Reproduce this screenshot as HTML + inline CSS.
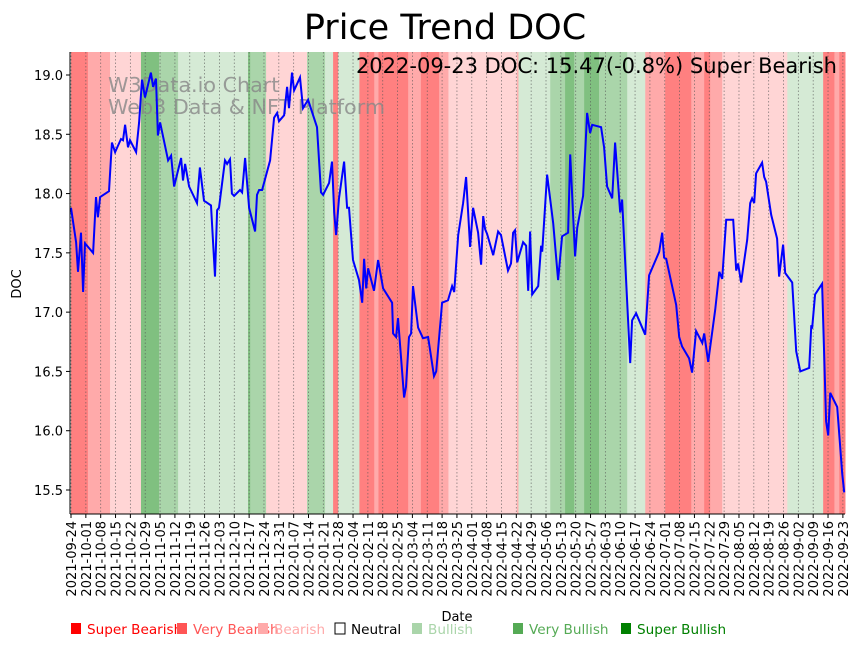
<!DOCTYPE html>
<html><head><meta charset="utf-8"><style>
body{margin:0;background:#fff;font-family:"DejaVu Sans","Liberation Sans",sans-serif}
svg text{font-family:"DejaVu Sans","Liberation Sans",sans-serif}
</style></head><body>
<svg id="chart" width="862" height="646" xmlns="http://www.w3.org/2000/svg">
<text x="445" y="39" font-size="35" text-anchor="middle">Price Trend DOC</text>
<g id="bands"></g>
<g id="grid"></g>
<text x="108" y="92" font-size="20.7" fill="#888" opacity="0.8">W3Data.io Chart</text>
<text x="108" y="114" font-size="20.7" fill="#888" opacity="0.8">Web3 Data &amp; NFT Platform</text>
<path id="line" fill="none" stroke="#0000ff" stroke-width="2"/>
<text x="837" y="73" font-size="21" text-anchor="end">2022-09-23 DOC: 15.47(-0.8%) Super Bearish</text>
<g id="axes"></g>
<text transform="translate(21,284) rotate(-90)" font-size="13" text-anchor="middle">DOC</text>
<text x="457" y="621" font-size="13" text-anchor="middle">Date</text>
<g id="legend"></g>
</svg>
<script>
const days=[0,2.4,3.3,4.7,5.7,6.6,10.4,11.8,12.7,13.7,17.9,19.3,20.8,23.6,24.5,25.5,26.9,27.8,30.7,32.1,33.5,34.9,37.7,38.7,40.1,41.0,42.0,45.8,47.2,48.6,51.9,52.8,53.8,55.7,59.4,60.8,62.7,66.0,67.9,68.9,69.8,72.6,73.6,75.0,75.9,76.9,79.7,80.7,82.1,84.0,86.8,87.7,88.7,90.1,93.9,95.8,97.2,98.1,100.5,101.9,102.8,104.2,105.2,108.0,109.4,111.8,116.0,117.9,118.9,121.7,123.1,124.1,125.0,126.4,128.8,130.2,131.1,133.0,135.8,137.3,138.2,139.2,140.1,142.9,144.8,147.2,151.4,151.9,153.3,154.2,157.1,158.0,159.4,160.4,161.3,163.7,166.0,168.4,171.2,172.2,175.0,177.8,179.7,180.7,182.6,184.9,186.3,188.2,189.6,192.0,193.4,194.4,195.3,196.2,199.1,201.4,202.8,206.1,207.5,208.5,209.4,210.4,213.2,214.6,215.6,216.5,217.5,220.3,221.7,222.2,224.5,227.4,229.7,231.6,234.4,235.4,237.7,238.7,241.5,243.4,244.8,245.8,250.0,251.4,252.8,255.2,256.6,259.0,259.9,263.7,264.6,266.5,270.8,272.6,277.4,278.8,279.7,280.7,285.4,286.8,288.2,291.5,292.9,294.8,297.7,298.6,300.5,303.8,305.7,307.1,308.0,309.0,312.3,313.7,314.6,316.0,318.9,320.3,321.2,322.2,323.1,325.9,326.9,327.8,330.2,333.0,333.9,335.8,336.8,340.1,342.0,343.9,348.1,349.1,349.5,350.9,354.2,356.1,357.1,358.0,361.3,363.7,364.6];
const prices=[17.88,17.59,17.34,17.67,17.17,17.58,17.50,17.97,17.80,17.97,18.02,18.43,18.35,18.46,18.45,18.58,18.39,18.45,18.35,18.60,18.96,18.81,19.02,18.90,18.97,18.49,18.60,18.28,18.32,18.06,18.30,18.11,18.25,18.06,17.92,18.22,17.94,17.90,17.30,17.86,17.88,18.28,18.25,18.29,18.00,17.98,18.03,18.01,18.30,17.88,17.68,17.99,18.03,18.03,18.28,18.64,18.68,18.61,18.66,18.90,18.72,19.02,18.87,18.98,18.72,18.79,18.56,18.01,17.99,18.09,18.27,17.84,17.65,17.96,18.27,17.88,17.88,17.44,17.27,17.08,17.45,17.20,17.37,17.18,17.44,17.20,17.08,16.82,16.79,16.95,16.28,16.37,16.79,16.82,17.22,16.87,16.78,16.79,16.46,16.50,17.08,17.10,17.22,17.17,17.65,17.92,18.14,17.55,17.88,17.67,17.40,17.81,17.70,17.66,17.48,17.68,17.65,17.35,17.41,17.67,17.69,17.42,17.59,17.56,17.18,17.68,17.15,17.22,17.56,17.51,18.16,17.75,17.27,17.64,17.67,18.33,17.47,17.71,17.98,18.68,18.51,18.58,18.56,18.39,18.06,17.96,18.43,17.84,17.95,16.57,16.93,16.99,16.81,17.31,17.51,17.67,17.46,17.45,17.06,16.79,16.71,16.61,16.49,16.84,16.74,16.82,16.58,17.02,17.34,17.28,17.52,17.78,17.78,17.35,17.41,17.25,17.61,17.92,17.96,17.92,18.17,18.26,18.14,18.10,17.82,17.62,17.30,17.57,17.33,17.25,16.67,16.50,16.53,16.89,16.86,17.15,17.24,16.08,15.96,16.32,16.20,15.64,15.48];
const bandStart=[0,8,18.4,33,41.5,50.5,83.5,84.5,92,111.3,119.8,123.6,126,136,143,145,159,165,173.6,178,210.4,211,226,233,237.3,242,249,262.3,270.8,280.2,292.5,298.6,301.4,307.1,337.8,354.7,360,362.3];
const bandEnd=[8,18.4,33,41.5,50.5,83.5,84.5,92,111.3,119.8,123.6,126,136,143,145,159,165,173.6,178,210.4,211,226,233,237.3,242,249,262.3,270.8,280.2,292.5,298.6,301.4,307.1,337.8,354.7,360,362.3,365];
const bandLevel=[-3,-2,-1,3,2,1,3,2,-1,2,1,-3,1,-3,-2,-3,-2,-3,-2,-1,-2,1,2,3,2,3,2,1,-2,-3,-2,-3,-2,-1,1,-3,-2,-3];
const yTicks=[15.5,16.0,16.5,17.0,17.5,18.0,18.5,19.0];
const xTickLabels=["2021-09-24","2021-10-01","2021-10-08","2021-10-15","2021-10-22","2021-10-29","2021-11-05","2021-11-12","2021-11-19","2021-11-26","2021-12-03","2021-12-10","2021-12-17","2021-12-24","2021-12-31","2022-01-07","2022-01-14","2022-01-21","2022-01-28","2022-02-04","2022-02-11","2022-02-18","2022-02-25","2022-03-04","2022-03-11","2022-03-18","2022-03-25","2022-04-01","2022-04-08","2022-04-15","2022-04-22","2022-04-29","2022-05-06","2022-05-13","2022-05-20","2022-05-27","2022-06-03","2022-06-10","2022-06-17","2022-06-24","2022-07-01","2022-07-08","2022-07-15","2022-07-22","2022-07-29","2022-08-05","2022-08-12","2022-08-19","2022-08-26","2022-09-02","2022-09-09","2022-09-16","2022-09-23"];
const legendLabels=["Super Bearish","Very Bearish","Bearish","Neutral","Bullish","Very Bullish","Super Bullish"];
const legendColors=["#ff0000","#ff5555","#ffaaaa","#ffffff","#aad5aa","#55aa55","#008000"];
const legendX=[70,176,257,334,411,512,620];

const NS="http://www.w3.org/2000/svg";
const L=70,R=845,T=52,B=514;
const xS=d=>71+d*(845-71)/365;
const yS=v=>75+(19.0-v)*(490-75)/3.5;
const bandColor={"-3":"#ff8080","-2":"#ffaaaa","-1":"#ffd5d5","1":"#d5ead5","2":"#aad5aa","3":"#80c080"};
function mk(tag,attrs,parent){const e=document.createElementNS(NS,tag);for(const k in attrs)e.setAttribute(k,attrs[k]);parent.appendChild(e);return e;}

const gB=document.getElementById('bands');
for(let i=0;i<bandStart.length;i++){
  const r=mk('rect',{x:xS(bandStart[i]),y:T,width:Math.max(0,xS(bandEnd[i])-xS(bandStart[i])+0.5),height:B-T,fill:bandColor[bandLevel[i]]},gB);
  
  
}
const gG=document.getElementById('grid');
const gA=document.getElementById('axes');
xTickLabels.forEach((lab,i)=>{
  const x=xS(i*7);
  const gl=mk('line',{x1:x,x2:x,y1:T,y2:B,stroke:'#555','stroke-width':0.8,'stroke-dasharray':'1.5,2',opacity:0.7},gG);
  
  
  mk('line',{x1:x,x2:x,y1:B,y2:B+4,stroke:'#000','stroke-width':1},gA);
  const t=mk('text',{transform:`translate(${x+5},${B+7}) rotate(-90)`,'font-size':13,'text-anchor':'end'},gA);
  t.textContent=lab;
  
  
});
yTicks.forEach(v=>{
  const y=yS(v);
  mk('line',{x1:L-4,x2:L,y1:y,y2:y,stroke:'#000','stroke-width':1},gA);
  const t=mk('text',{x:L-7,y:y+5,'font-size':13,'text-anchor':'end'},gA);
  t.textContent=v.toFixed(1);
  
  
});
mk('line',{x1:L,x2:L,y1:T,y2:B,stroke:'#000','stroke-width':1},gA);
mk('line',{x1:L,x2:R,y1:B,y2:B,stroke:'#000','stroke-width':1},gA);

document.getElementById('line').setAttribute('d',days.map((d,i)=>(i?'L':'M')+xS(d).toFixed(1)+','+yS(prices[i]).toFixed(1)).join(''));

const gL=document.getElementById('legend');
legendLabels.forEach((lab,i)=>{
  const x=legendX[i];
  const r=mk('rect',{x:x+1,y:623,width:10,height:11,fill:legendColors[i],stroke:i==3?'#000':'none','stroke-width':1},gL);
  
  
  const t=mk('text',{x:x+17,y:634,'font-size':13.6,fill:i==3?'#000':legendColors[i]},gL);
  t.textContent=lab;
  
  
});
</script>
</body></html>
